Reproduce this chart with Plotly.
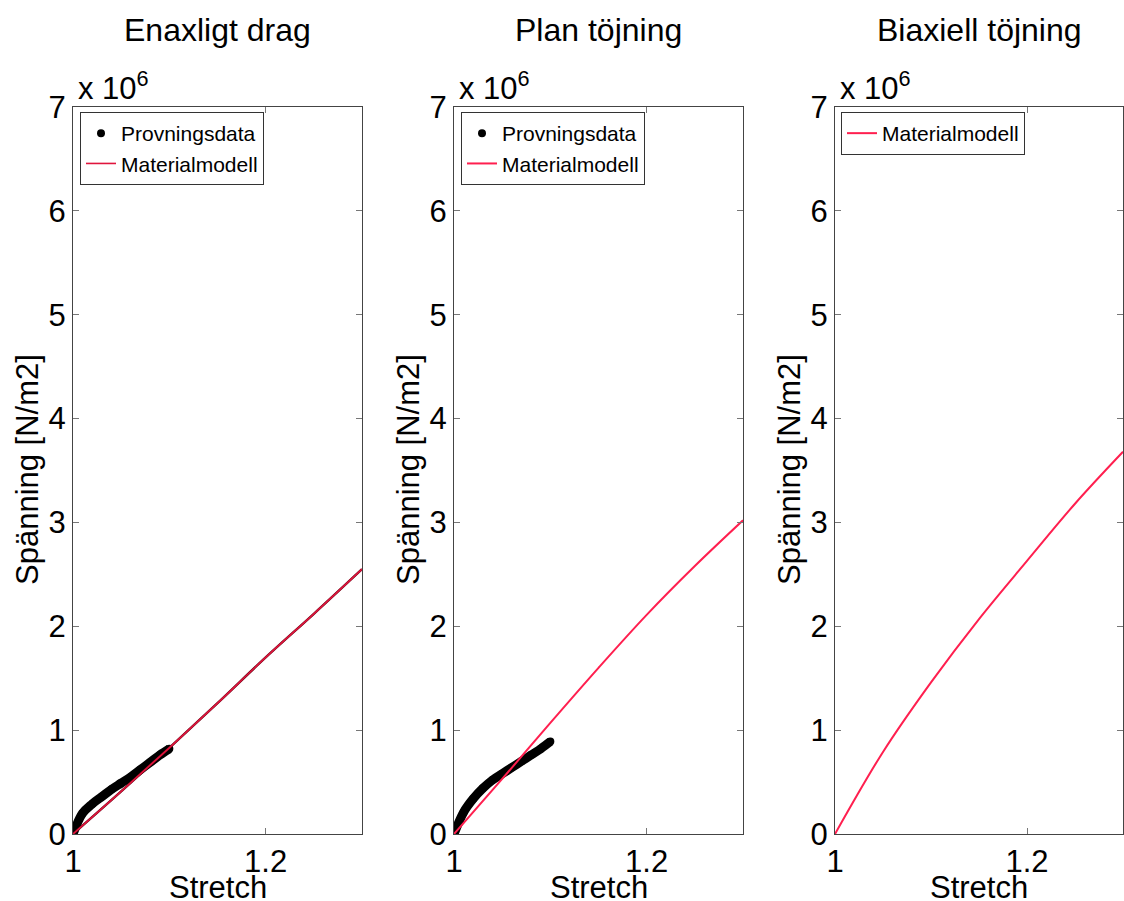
import plotly.graph_objects as go

# Stretch values and stresses [N/m2] for each load case
titles = ["Enaxligt drag", "Plan töjning", "Biaxiell töjning"]

model_stretch = [1.00, 1.05, 1.10, 1.15, 1.20, 1.25, 1.30]
uniaxial_model = [0.0, 0.41e6, 0.83e6, 1.26e6, 1.70e6, 2.12e6, 2.55e6]
planar_model = [0.0, 0.53e6, 1.07e6, 1.60e6, 2.11e6, 2.58e6, 3.02e6]
biaxial_model = [0.0, 0.79e6, 1.46e6, 2.07e6, 2.63e6, 3.18e6, 3.68e6]

test_stretch = [1.00, 1.01, 1.02, 1.03, 1.04, 1.05, 1.06, 1.07, 1.08, 1.09, 1.10]
uniaxial_test = [0.0, 0.20e6, 0.29e6, 0.36e6, 0.43e6, 0.49e6, 0.55e6, 0.62e6, 0.69e6, 0.76e6, 0.82e6]
planar_test = [0.0, 0.21e6, 0.34e6, 0.44e6, 0.52e6, 0.58e6, 0.64e6, 0.70e6, 0.76e6, 0.82e6, 0.89e6]

x_ticks = [1.0, 1.2]
x_ticktext = ["1", "1.2"]
y_ticks = [0, 1e6, 2e6, 3e6, 4e6, 5e6, 6e6, 7e6]
y_ticktext = ["0", "1", "2", "3", "4", "5", "6", "7"]

W, H = 1124, 901
FONT = "Liberation Sans, Arial, Helvetica, sans-serif"
RED = "#ff1f4f"

# panel boxes in pixels (left, right)
panels_px = [(73, 362), (454, 743), (835, 1123)]
top_px, bottom_px = 107, 834
ydom = [1 - bottom_px / H, 1 - top_px / H]

fig = go.Figure()

axis_common = dict(
    showgrid=False, zeroline=False, showline=True, linecolor="#444", linewidth=1,
    mirror="ticks", ticks="inside", ticklen=6, tickcolor="#777", automargin=False,
    tickfont=dict(family=FONT, size=31, color="black"),
)

def label(text, x_px, y_px, size=31, **kw):
    fig.add_annotation(text=text, x=x_px / W, y=1 - y_px / H, xref="paper", yref="paper",
                       showarrow=False, font=dict(family=FONT, size=size, color="black"), **kw)

for i, (l, r) in enumerate(panels_px):
    n = "" if i == 0 else str(i + 1)
    fig.update_layout(**{
        f"xaxis{n}": dict(axis_common, domain=[l / W, r / W], range=[1, 1.3],
                          tickvals=x_ticks, ticktext=x_ticktext,
                          anchor=f"y{n}"),
        f"yaxis{n}": dict(axis_common, domain=ydom, range=[0, 7e6],
                          tickvals=y_ticks, ticktext=y_ticktext,
                          anchor=f"x{n}"),
    })
    cx = (l + r) / 2
    label(titles[i], cx, 30, size=32, xanchor="center", yanchor="middle")
    label("Stretch", cx, 887, xanchor="center", yanchor="middle")
    label("Spänning [N/m2]", l - 46, 470, textangle=-90, xanchor="center", yanchor="middle")
    label("x 10<sup>6</sup>", l + 3, 108, xanchor="left", yanchor="bottom")

# Enaxligt drag
fig.add_trace(go.Scatter(x=test_stretch, y=uniaxial_test, mode="lines",
                         line=dict(color="black", width=9, shape="spline"),
                         showlegend=False, xaxis="x", yaxis="y"))
fig.add_trace(go.Scatter(x=test_stretch, y=uniaxial_test, mode="markers", name="Provningsdata",
                         marker=dict(color="black", size=8), legend="legend",
                         xaxis="x", yaxis="y"))
fig.add_trace(go.Scatter(x=model_stretch, y=uniaxial_model, mode="lines",
                         line=dict(color="#5a0010", width=2.4, shape="spline"),
                         showlegend=False, xaxis="x", yaxis="y"))
fig.add_trace(go.Scatter(x=model_stretch, y=uniaxial_model, mode="lines", name="Materialmodell",
                         line=dict(color="#e0153d", width=1.6, shape="spline"), legend="legend",
                         xaxis="x", yaxis="y"))

# Plan töjning
fig.add_trace(go.Scatter(x=test_stretch, y=planar_test, mode="lines",
                         line=dict(color="black", width=9, shape="spline"),
                         showlegend=False, xaxis="x2", yaxis="y2"))
fig.add_trace(go.Scatter(x=test_stretch, y=planar_test, mode="markers", name="Provningsdata",
                         marker=dict(color="black", size=8), legend="legend2",
                         xaxis="x2", yaxis="y2"))
fig.add_trace(go.Scatter(x=model_stretch, y=planar_model, mode="lines", name="Materialmodell",
                         line=dict(color=RED, width=2, shape="spline"), legend="legend2",
                         xaxis="x2", yaxis="y2"))

# Biaxiell töjning
fig.add_trace(go.Scatter(x=model_stretch, y=biaxial_model, mode="lines", name="Materialmodell",
                         line=dict(color=RED, width=2, shape="spline"), legend="legend3",
                         xaxis="x3", yaxis="y3"))

legend_common = dict(
    xanchor="left", yanchor="top", y=1 - 112 / H,
    bgcolor="white", bordercolor="#333", borderwidth=1,
    font=dict(family=FONT, size=21, color="black"),
    itemwidth=30, tracegroupgap=0,
)
fig.update_layout(
    width=W, height=H,
    margin=dict(l=0, r=0, t=0, b=0, autoexpand=False),
    paper_bgcolor="white", plot_bgcolor="white",
    legend=dict(legend_common, x=(panels_px[0][0] + 7) / W),
    legend2=dict(legend_common, x=(panels_px[1][0] + 7) / W),
    legend3=dict(legend_common, x=(panels_px[2][0] + 6) / W),
)

fig.write_html("out.html")
